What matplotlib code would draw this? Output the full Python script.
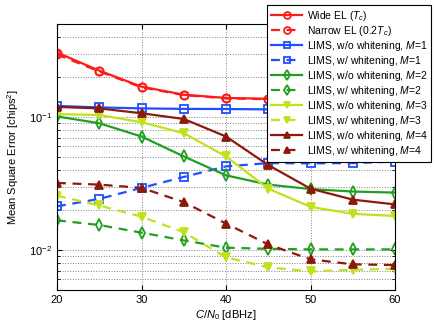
import matplotlib
matplotlib.use("Agg")
import matplotlib.pyplot as plt
from matplotlib.ticker import LogLocator, NullFormatter, FixedLocator

plt.rcParams['font.family'] = ['Liberation Sans', 'DejaVu Sans']
plt.rcParams['mathtext.fontset'] = 'custom'
plt.rcParams['mathtext.it'] = 'Liberation Sans:italic'
plt.rcParams['mathtext.rm'] = 'Liberation Sans'

cn0 = [20, 25, 30, 35, 40, 45, 50, 55, 60]

wide_el = [0.305, 0.223, 0.169, 0.147, 0.139, 0.137, 0.133, 0.130, 0.128]
narrow_el = [0.295, 0.220, 0.167, 0.146, 0.138, 0.136, 0.132, 0.129, 0.127]
m1_wo = [0.121, 0.118, 0.116, 0.115, 0.1148, 0.114, 0.114, 0.113, 0.113]
m1_w = [0.0213, 0.0242, 0.0293, 0.0354, 0.0425, 0.0450, 0.0448, 0.0450, 0.0462]
m2_wo = [0.101, 0.0897, 0.0713, 0.0505, 0.0364, 0.0310, 0.0287, 0.0275, 0.0270]
m2_w = [0.0167, 0.0154, 0.0135, 0.0118, 0.0104, 0.0102, 0.0101, 0.0101, 0.0101]
m3_wo = [0.105, 0.1035, 0.0913, 0.0755, 0.0505, 0.0289, 0.0211, 0.0187, 0.0180]
m3_w = [0.0256, 0.0216, 0.0178, 0.0136, 0.0088, 0.0074, 0.0069, 0.0071, 0.0072]
m4_wo = [0.119, 0.116, 0.1066, 0.0966, 0.0713, 0.0435, 0.0289, 0.0239, 0.0220]
m4_w = [0.0319, 0.0310, 0.0293, 0.0229, 0.0158, 0.0110, 0.0085, 0.0078, 0.0077]

labels = [
    r'Wide EL ($T_c$)',
    r'Narrow EL (0.2$T_c$)',
    r'LIMS, w/o whitening, $M$=1',
    r'LIMS, w/ whitening, $M$=1',
    r'LIMS, w/o whitening, $M$=2',
    r'LIMS, w/ whitening, $M$=2',
    r'LIMS, w/o whitening, $M$=3',
    r'LIMS, w/ whitening, $M$=3',
    r'LIMS, w/o whitening, $M$=4',
    r'LIMS, w/ whitening, $M$=4',
]

red = '#ff1a1a'
blue = '#1f4fff'
green = '#20a020'
yellow = '#c3e01c'
dred = '#8c1a0c'

series = [
    (wide_el, red, '-', 'o'),
    (narrow_el, red, '--', 'o'),
    (m1_wo, blue, '-', 's'),
    (m1_w, blue, '--', 's'),
    (m2_wo, green, '-', 'd'),
    (m2_w, green, '--', 'd'),
    (m3_wo, yellow, '-', 'v'),
    (m3_w, yellow, '--', 'v'),
    (m4_wo, dred, '-', '^'),
    (m4_w, dred, '--', '^'),
]

fig = plt.figure(figsize=(4.36, 3.28), dpi=100)
ax = fig.add_axes([57/436, 1-290/328, (395-57)/436, (290-24)/328])

for (vals, c, ls, mk), lab in zip(series, labels):
    filled = mk in ('^', 'v')
    line, = ax.plot(cn0, vals, color=c, linestyle=ls, marker=mk, linewidth=1.6,
                    markersize=5.8, markeredgewidth=1.3,
                    markerfacecolor=c if filled else 'none', label=lab)
    if ls == '--':
        line.set_dashes((4, 3))

ax.set_yscale('log')
ax.set_xlim(20, 60)
ax.set_ylim(0.005, 0.5)
ax.xaxis.set_major_locator(FixedLocator([20, 30, 40, 50, 60]))
ax.yaxis.set_major_locator(LogLocator(base=10, numticks=10))
ax.yaxis.set_minor_locator(LogLocator(base=10, subs=range(2, 10), numticks=20))
ax.yaxis.set_minor_formatter(NullFormatter())
ax.grid(True, which='major', linestyle=':', color='#808080', linewidth=0.7)
ax.grid(True, which='minor', axis='y', linestyle=':', color='#808080', linewidth=0.7)
ax.tick_params(direction='in', which='both', labelsize=8, top=True, right=True)
for s in ax.spines.values():
    s.set_linewidth(0.8)

ax.set_xlabel(r'$C/N_0$ [dBHz]', fontsize=8, labelpad=2)
ax.set_ylabel(r'Mean Square Error [chips$^2$]', fontsize=8, labelpad=6)

leg = fig.legend(loc='upper right', bbox_to_anchor=(431/436, 1-5/328),
                 bbox_transform=fig.transFigure, fontsize=7.5, frameon=True,
                 fancybox=False, framealpha=1, edgecolor='black',
                 handlelength=3.0, labelspacing=0.1, borderpad=0.35,
                 handletextpad=0.4, borderaxespad=0, markerscale=0.85)
leg.get_frame().set_linewidth(0.8)

fig.savefig('out.png', dpi=100)
